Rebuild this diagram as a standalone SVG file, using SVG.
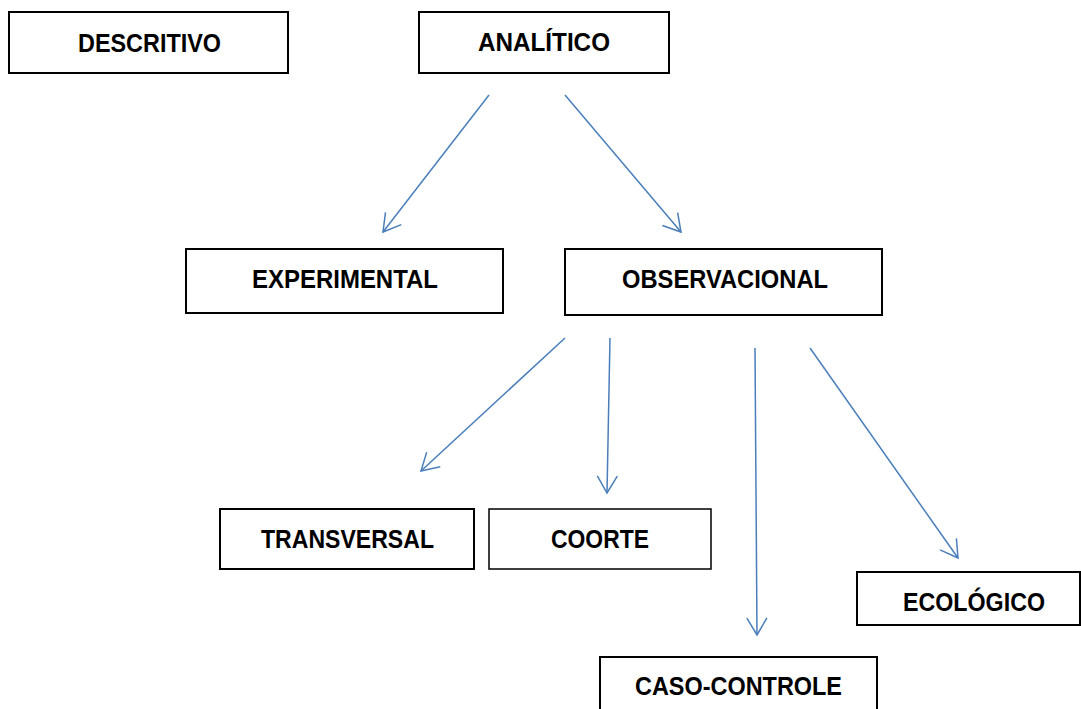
<svg xmlns="http://www.w3.org/2000/svg" width="1081" height="709" viewBox="0 0 1081 709">
<style>
.box{fill:#fff;stroke:#000;stroke-width:2}
.lbl{font-family:"Liberation Sans",Arial,sans-serif;font-weight:bold;font-size:25px;fill:#000}
.con{stroke:#4a7ebb;stroke-width:1.5;fill:none;marker-end:url(#arr)}
</style>
<defs>
<marker id="arr" markerUnits="userSpaceOnUse" markerWidth="40" markerHeight="40" refX="0" refY="0" orient="auto" overflow="visible">
<path d="M-17,-10 L0,0 L-17,10" fill="none" stroke="#4a7ebb" stroke-width="1.5"/>
</marker>
</defs>
<rect width="1081" height="709" fill="#fff"/>
<g id="descritivo"><rect class="box" x="9" y="12" width="279" height="61"/><text class="lbl" x="78" y="52" textLength="143" lengthAdjust="spacingAndGlyphs">DESCRITIVO</text></g>
<g id="analitico"><rect class="box" x="419" y="12" width="250" height="61"/><text class="lbl" x="478" y="51" textLength="132" lengthAdjust="spacingAndGlyphs">ANALÍTICO</text></g>
<g id="experimental"><rect class="box" x="186" y="249" width="317" height="64"/><text class="lbl" x="252" y="288" textLength="186" lengthAdjust="spacingAndGlyphs">EXPERIMENTAL</text></g>
<g id="observacional"><rect class="box" x="565" y="249" width="317" height="66"/><text class="lbl" x="622" y="288" textLength="206" lengthAdjust="spacingAndGlyphs">OBSERVACIONAL</text></g>
<g id="transversal"><rect class="box" x="220" y="509" width="254" height="60"/><text class="lbl" x="261" y="548" textLength="173" lengthAdjust="spacingAndGlyphs">TRANSVERSAL</text></g>
<g id="coorte"><rect class="box" x="489" y="509" width="222" height="60" style="stroke-width:1.5"/><text class="lbl" x="551" y="548" textLength="98" lengthAdjust="spacingAndGlyphs">COORTE</text></g>
<g id="ecologico"><rect class="box" x="857" y="572" width="223" height="53"/><text class="lbl" x="903" y="611" textLength="142" lengthAdjust="spacingAndGlyphs">ECOLÓGICO</text></g>
<g id="caso-controle"><rect class="box" x="600" y="657" width="277" height="70"/><text class="lbl" x="635" y="695" textLength="207" lengthAdjust="spacingAndGlyphs">CASO-CONTROLE</text></g>
<g id="connectors">
<line class="con" x1="489" y1="95" x2="383" y2="232"/>
<line class="con" x1="565" y1="95" x2="681" y2="232"/>
<line class="con" x1="565" y1="338" x2="421" y2="471"/>
<line class="con" x1="610" y1="338" x2="607" y2="493"/>
<line class="con" x1="755" y1="348" x2="757" y2="635"/>
<line class="con" x1="810" y1="348" x2="958" y2="558"/>
</g>
</svg>
